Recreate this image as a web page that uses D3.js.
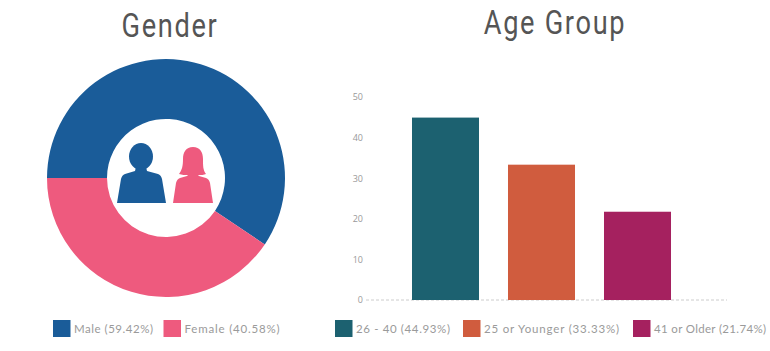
<!DOCTYPE html>
<html>
<head>
<meta charset="utf-8">
<script src="https://cdn.jsdelivr.net/npm/d3@7"></script>
<style>
  html, body { margin: 0; padding: 0; background: #fff; overflow: hidden; }
  .title { font-family: Roboto, sans-serif; font-weight: 400; font-size: 34px; fill: #555; letter-spacing: 2.1px; }
  .legend { font-family: Lato, sans-serif; font-size: 11.5px; fill: #9a9a9a; }
  .tick text { font-family: "Open Sans", sans-serif; font-size: 9px; fill: #999; }
</style>
</head>
<body>
<div id="plots"></div>
<script>
// gender donut
var genderLabels = ["Male", "Female"];
var genderValues = [59.42, 40.58];
var genderColors = ["#1a5c99", "#ee5a7e"];

// age bars
var ageLabels = ["26 - 40", "25 or Younger", "41 or Older"];
var ageValues = [44.93, 33.33, 21.74];
var ageColors = ["#1c6170", "#d05c3e", "#a5215f"];
var ageTicks = [0, 10, 20, 30, 40, 50];

var width = 770;
var height = 351;

var svg = d3.select("#plots")
  .append("svg")
  .attr("width", width)
  .attr("height", height)
  .style("display", "block");

// titles, squeezed sideways because the original face is narrow
svg.append("text").attr("class", "title")
  .attr("text-anchor", "middle")
  .attr("transform", "translate(170,37) scale(0.8,1)")
  .text("Gender");
svg.append("text").attr("class", "title")
  .attr("text-anchor", "middle")
  .attr("transform", "translate(555,34) scale(0.8,1)")
  .text("Age Group");

// donut, first slice starts at 9 o'clock
var pie = d3.pie().sort(null)
  .startAngle(-Math.PI / 2)
  .endAngle(Math.PI * 1.5);
var arc = d3.arc().innerRadius(59).outerRadius(119);

var donut = svg.append("g").attr("transform", "translate(166,178)");
donut.selectAll("path")
  .data(pie(genderValues))
  .enter()
  .append("path")
  .attr("d", arc)
  .attr("fill", function(d, i) { return genderColors[i]; });

// people icons in the hole
var icons = svg.append("g");
icons.append("ellipse").attr("cx", 141).attr("cy", 156.5).attr("rx", 12).attr("ry", 13.5).attr("fill", genderColors[0]);
icons.append("path").attr("fill", genderColors[0])
  .attr("d", "M136,167 L146,167 L147,171 L158,174 Q161,175 162,179 L166,203 L117,203 L121,179 Q122,175 125,174 L135,171 Z");
icons.append("path").attr("fill", genderColors[1])
  .attr("d", "M193,147 C200,147 203,152 203,159 C203,166 203,170 206,174 C204,175 201,175 198,175 L199,176 L206,178 Q209,179 210,183 L213,203 L173,203 L176,183 Q177,179 180,178 L187,176 L188,175 C185,175 182,175 179,174 C182,170 183,166 183,159 C183,152 186,147 193,147 Z");

// bars
var x = d3.scaleBand()
  .domain(ageLabels)
  .range([397.5, 685.5])
  .paddingInner(0.302)
  .paddingOuter(0.151);
var y = d3.scaleLinear().domain([0, 50]).range([300, 97]);

var yAxis = svg.append("g")
  .attr("transform", "translate(366,0)")
  .call(d3.axisLeft(y).tickValues(ageTicks).tickSize(0).tickPadding(3));
yAxis.select(".domain").remove();

svg.append("line")
  .attr("x1", 366).attr("x2", 727)
  .attr("y1", y(0)).attr("y2", y(0))
  .attr("stroke", "#ccc")
  .attr("stroke-dasharray", "3,2");

svg.selectAll("rect.bar")
  .data(ageValues)
  .enter()
  .append("rect")
  .attr("class", "bar")
  .attr("x", function(d, i) { return x(ageLabels[i]); })
  .attr("y", function(d) { return y(d); })
  .attr("width", x.bandwidth())
  .attr("height", function(d) { return y(0) - y(d); })
  .attr("fill", function(d, i) { return ageColors[i]; });

// legends
var legendX = [53, 163.5, 335, 463, 633];
var legendTextWidth = [79, 95, 94, 135, 112];
var legendLabels = genderLabels.concat(ageLabels);
var legendValues = genderValues.concat(ageValues);
var legendColors = genderColors.concat(ageColors);

var legend = svg.selectAll("g.legend-item")
  .data(legendLabels)
  .enter()
  .append("g")
  .attr("class", "legend-item")
  .attr("transform", function(d, i) { return "translate(" + legendX[i] + ",320)"; });
legend.append("rect")
  .attr("width", 17.5).attr("height", 17)
  .attr("fill", function(d, i) { return legendColors[i]; });
legend.append("text")
  .attr("class", "legend")
  .attr("x", 21).attr("y", 13)
  .attr("textLength", function(d, i) { return legendTextWidth[i]; })
  .text(function(d, i) { return d + " (" + legendValues[i].toFixed(2) + "%)"; });
</script>
</body>
</html>
